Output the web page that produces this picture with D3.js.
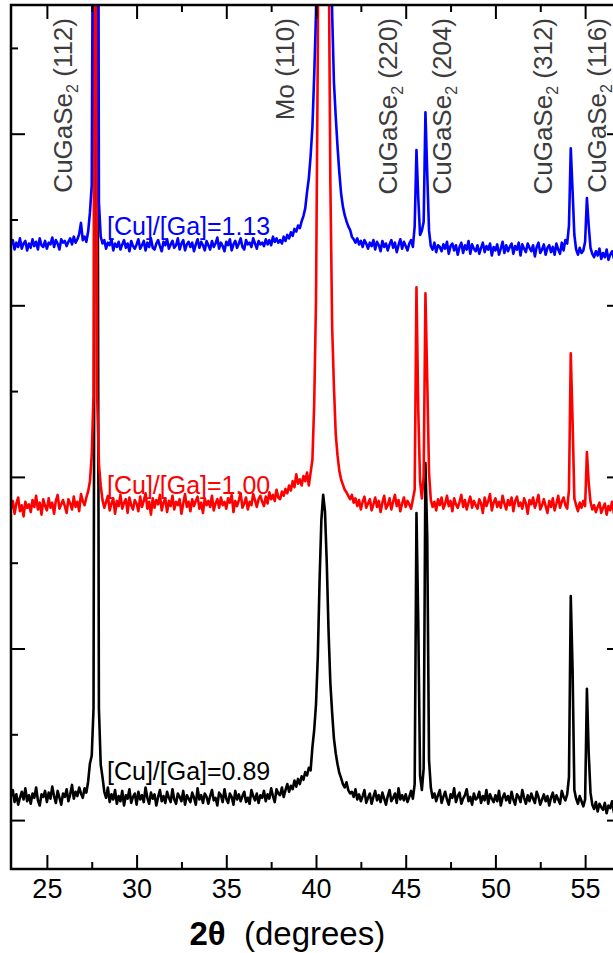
<!DOCTYPE html>
<html>
<head>
<meta charset="utf-8">
<script src="https://cdn.jsdelivr.net/npm/d3@7"></script>
<style>
  html, body { margin: 0; padding: 0; background: #fff; }
  svg { display: block; font-family: Arial, "Liberation Sans", Helvetica, sans-serif; }
</style>
</head>
<body>
<svg id="chart" width="613" height="953"></svg>
<script>
// XRD scans of CuGaSe2 films on Mo, 2θ from 23° to 57° in 0.1° steps (raw counts)
const angleStart = 23.0;
const angleStep = 0.1;

const scanCu089 = [
  128,135,121,130,118,126,133,124,137,122,
  129,119,131,126,138,123,117,130,127,134,
  121,132,125,139,128,120,134,126,118,131,
  127,136,122,130,141,125,133,128,138,131,
  126,137,132,145,166,175,230,1300,1200,230,
  165,150,133,126,138,121,130,124,135,119,
  128,122,134,117,129,125,136,120,127,131,
  118,133,124,129,121,138,126,119,132,125,
  130,117,127,135,122,128,120,133,126,121,
  136,124,119,131,127,122,134,118,129,125,
  121,132,126,118,137,124,129,120,131,127,
  119,128,135,123,126,117,132,129,121,136,
  125,120,131,127,118,134,124,130,122,128,
  133,121,126,119,135,128,123,131,120,129,
  126,134,122,130,125,137,128,121,136,131,
  129,138,127,135,142,133,140,136,146,139,
  148,142,151,147,156,152,161,158,185,205,
  235,290,380,450,479,460,400,320,260,225,
  195,178,165,155,149,142,138,144,135,131,
  133,127,136,124,130,122,128,135,120,126,
  131,119,127,134,123,129,121,132,125,118,
  128,135,122,126,131,120,137,124,129,123,
  130,121,127,134,125,142,458,330,152,135,
  160,516,430,170,138,126,131,122,129,135,
  120,127,133,124,118,130,126,137,121,128,
  132,119,125,129,136,122,127,118,131,124,
  126,133,120,128,123,135,119,130,125,121,
  129,122,134,117,126,131,123,128,120,133,
  124,118,130,127,121,135,126,119,129,122,
  131,125,120,133,127,118,124,130,122,128,
  117,126,132,121,129,124,119,134,127,123,
  130,150,361,277,135,125,119,128,122,116,
  124,253,178,132,118,113,121,110,119,115,
  112,120,108,117,114,122,109,118,111,116,
  113
];

const scanCu100 = [
  118,127,112,124,131,115,122,109,126,119,
  123,114,128,120,133,117,125,111,129,121,
  116,130,119,125,112,127,134,118,123,128,
  121,113,129,124,117,132,120,126,115,135,
  127,122,131,138,150,180,250,1500,250,170,
  145,128,119,126,133,116,124,130,112,127,
  121,134,118,125,129,113,131,122,117,128,
  124,115,132,120,127,136,118,126,111,130,
  119,128,123,134,116,125,130,114,127,121,
  133,117,126,122,129,112,124,135,120,126,
  115,129,121,127,132,118,125,113,130,122,
  127,120,133,116,124,129,119,131,122,126,
  118,130,125,134,114,127,121,128,136,119,
  124,131,117,126,122,135,128,120,129,133,
  126,121,132,124,137,129,134,127,140,131,
  129,138,133,141,136,145,139,150,143,158,
  147,152,145,156,150,160,145,160,175,240,
  360,650,1200,1800,2000,1900,1400,800,500,330,
  260,205,180,162,152,146,140,137,133,129,
  134,125,130,121,128,117,126,132,119,124,
  129,116,123,131,120,127,114,125,133,118,
  122,130,117,126,134,121,128,115,124,131,
  120,127,123,118,129,140,376,233,150,130,
  155,369,268,160,128,120,126,116,129,122,
  131,118,124,133,121,127,115,130,123,119,
  126,134,120,128,117,125,132,119,127,122,
  118,129,124,113,131,121,127,135,116,125,
  130,120,126,119,133,124,117,128,122,131,
  115,127,132,121,125,118,130,124,112,128,
  123,131,119,126,134,117,122,129,121,113,
  127,120,130,116,124,133,119,126,131,122,
  118,140,299,221,130,122,115,125,119,127,
  121,184,148,126,117,122,114,120,125,113,
  119,124,111,121,116,126,113,118,122,115,
  117
];

const scanCu113 = [
  121,126,115,123,118,128,116,122,125,114,
  122,117,127,119,124,115,128,120,118,125,
  116,123,121,129,118,126,122,115,127,123,
  125,119,124,128,121,130,123,127,133,146,
  126,130,124,136,158,190,700,1500,1300,170,
  130,122,126,116,123,120,127,114,122,118,
  124,115,121,126,117,122,113,125,119,116,
  121,127,116,120,125,114,123,118,128,117,
  115,122,126,119,113,124,120,127,116,121,
  125,117,120,128,115,122,126,114,121,124,
  118,123,113,121,127,117,124,120,114,125,
  120,115,125,118,122,129,116,123,119,113,
  124,120,127,114,121,125,117,122,128,118,
  115,126,121,123,118,128,122,116,125,121,
  123,119,127,121,126,120,130,124,128,123,
  126,122,130,125,132,128,135,131,139,136,
  143,140,148,154,163,182,198,224,258,318,
  390,600,1000,1600,2000,2000,1500,900,550,390,
  310,270,235,205,180,165,155,148,142,138,
  130,127,123,128,121,125,118,126,122,116,
  123,119,126,115,124,120,113,125,118,122,
  114,121,126,117,123,112,120,127,116,124,
  119,114,122,126,118,142,231,175,132,137,
  147,275,204,137,119,115,123,112,120,118,
  113,121,116,124,110,119,122,114,120,109,
  118,123,111,120,115,125,110,121,116,113,
  120,110,117,123,112,119,115,122,108,118,
  114,121,109,116,124,111,120,113,118,122,
  110,119,115,123,108,121,116,112,122,117,
  113,120,107,118,123,111,115,121,109,117,
  120,112,118,109,122,115,110,123,114,126,
  122,143,233,184,132,115,109,117,111,114,
  124,175,143,117,110,106,113,108,116,104,
  111,106,115,103,109,113,105,110,107,112,
  106
];

// vertical stacking of the three scans
const scanOffsets = [0, 345, 650];
const scanNames = ["[Cu]/[Ga]=0.89", "[Cu]/[Ga]=1.00", "[Cu]/[Ga]=1.13"];
const scanLabelAngle = [28.35, 28.35, 28.35];
const scanLabelLevel = [147, 480, 782];

// reflection labels: phase, subscript, hkl, label angle
const peakPhase = ["CuGaSe", "Mo", "CuGaSe", "CuGaSe", "CuGaSe", "CuGaSe"];
const peakSub = ["2", "", "2", "2", "2", "2"];
const peakHkl = ["(112)", "(110)", "(220)", "(204)", "(312)", "(116)"];
const peakLabelAngle = [26.4, 38.8, 44.5, 47.55, 53.15, 56.15];

const xMajorTicks = [25, 30, 35, 40, 45, 50, 55];
const xMinorTicks = [27.5, 32.5, 37.5, 42.5, 47.5, 52.5];
const yMajorTicks = [100, 300, 500, 700, 900];
const yMinorTicks = [200, 400, 600, 800, 1000];

const colors = ["#000000", "#ff0000", "#0000ff"];

const svg = d3.select("#chart");
const plotLeft = 11, plotRight = 621, plotTop = 5, plotBottom = 869;

const x = d3.scaleLinear().domain([23, 57]).range([plotLeft, plotRight]);
const y = d3.scaleLinear().domain([43, 1050]).range([plotBottom, plotTop]);

svg.append("defs").append("clipPath").attr("id", "plotClip")
  .append("rect").attr("x", plotLeft).attr("y", plotTop)
  .attr("width", plotRight - plotLeft).attr("height", plotBottom - plotTop);

// scans
const scans = [scanCu089, scanCu100, scanCu113];
const plot = svg.append("g").attr("clip-path", "url(#plotClip)");
scans.forEach((scan, k) => {
  const line = d3.line()
    .x((d, i) => x(angleStart + i * angleStep))
    .y(d => y(d + scanOffsets[k]));
  plot.append("path")
    .datum(scan)
    .attr("d", line)
    .attr("fill", "none")
    .attr("stroke", colors[k])
    .attr("stroke-width", 2.6)
    .attr("stroke-linejoin", "round");
});

// axes (ticks pointing inward on all four sides)
function styleAxis(g) {
  g.select(".domain").remove();
  g.selectAll(".tick line").attr("stroke", "#000").attr("stroke-width", 2);
  g.selectAll(".tick text").remove();
}
svg.append("g").attr("transform", `translate(0,${plotBottom})`)
  .call(d3.axisTop(x).tickValues(xMajorTicks).tickSize(14)).call(styleAxis);
svg.append("g").attr("transform", `translate(0,${plotBottom})`)
  .call(d3.axisTop(x).tickValues(xMinorTicks).tickSize(7)).call(styleAxis);
svg.append("g").attr("transform", `translate(0,${plotTop})`)
  .call(d3.axisBottom(x).tickValues(xMajorTicks).tickSize(14)).call(styleAxis);
svg.append("g").attr("transform", `translate(0,${plotTop})`)
  .call(d3.axisBottom(x).tickValues(xMinorTicks).tickSize(7)).call(styleAxis);
svg.append("g").attr("transform", `translate(${plotLeft},0)`)
  .call(d3.axisRight(y).tickValues(yMajorTicks).tickSize(14)).call(styleAxis);
svg.append("g").attr("transform", `translate(${plotLeft},0)`)
  .call(d3.axisRight(y).tickValues(yMinorTicks).tickSize(7)).call(styleAxis);
svg.append("g").attr("transform", `translate(${plotRight},0)`)
  .call(d3.axisLeft(y).tickValues(yMajorTicks).tickSize(14)).call(styleAxis);
svg.append("g").attr("transform", `translate(${plotRight},0)`)
  .call(d3.axisLeft(y).tickValues(yMinorTicks).tickSize(7)).call(styleAxis);

// x tick labels
const xLabels = svg.append("g").attr("transform", `translate(0,${plotBottom})`)
  .call(d3.axisBottom(x).tickValues(xMajorTicks).tickSize(0).tickPadding(10).tickFormat(d3.format("d")));
xLabels.select(".domain").remove();
xLabels.selectAll(".tick text")
  .attr("font-size", 27).attr("font-family", "Arial, 'Liberation Sans', sans-serif").attr("fill", "#000");

// frame
svg.append("rect")
  .attr("x", plotLeft).attr("y", plotTop)
  .attr("width", plotRight - plotLeft).attr("height", plotBottom - plotTop)
  .attr("fill", "none").attr("stroke", "#000").attr("stroke-width", 2.5);

// axis title
const title = svg.append("text")
  .attr("x", x(38.4)).attr("y", 945)
  .attr("text-anchor", "middle").attr("font-size", 33).attr("fill", "#000");
title.append("tspan").attr("font-weight", "bold").text("2θ");
title.append("tspan").attr("xml:space", "preserve").text("  (degrees)");

// reflection labels, rotated
peakHkl.forEach((hkl, i) => {
  const t = svg.append("text")
    .attr("transform", `translate(${x(peakLabelAngle[i])},18) rotate(-90)`)
    .attr("text-anchor", "end")
    .attr("font-size", 26)
    .attr("fill", "#3c3c3c");
  t.append("tspan").text(peakPhase[i]);
  if (peakSub[i]) {
    t.append("tspan").attr("font-size", 16).attr("dy", 6).text(peakSub[i]);
    t.append("tspan").attr("dy", -6).text(" " + hkl);
  } else {
    t.append("tspan").text(" " + hkl);
  }
});

// scan labels
scanNames.forEach((name, k) => {
  svg.append("text")
    .attr("x", x(scanLabelAngle[k]))
    .attr("y", y(scanLabelLevel[k]))
    .attr("font-size", 25)
    .attr("fill", colors[k])
    .text(name);
});
</script>
</body>
</html>
